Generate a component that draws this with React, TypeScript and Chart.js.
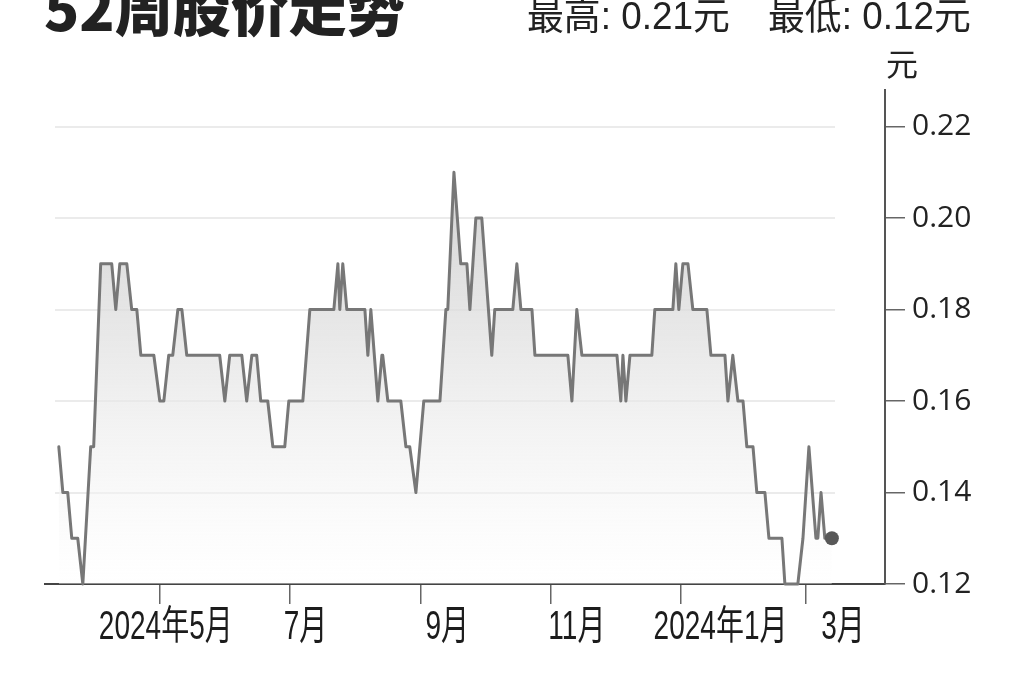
import React, { useEffect, useRef } from "react";
import { Chart, registerables } from "chart.js";

Chart.register(...registerables);

// ---- data (x = days since 2024-05-01, y = price in 元) ----
const DAYS = [
  -47.5, -45.6, -43.3, -41.4, -38.6, -36.2, -32.5, -31.1, -27.8, -22.6,
  -20.7, -18.8, -15.5, -13.2, -10.8, -8.9, -2.8, 0, 1.9, 4.2,
  6.1, 8.5, 10.4, 12.7, 28.2, 30.6, 32.9, 38.6, 40.9, 43.3,
  45.6, 47.5, 50.8, 53.2, 58.8, 60.7, 67.3, 70.6, 81.9, 83.8,
  84.7, 86.1, 88.0, 96.5, 97.9, 99.3, 102.6, 104.5, 104.9, 107.3,
  113.4, 115.8, 117.6, 120.5, 124.2, 131.8, 134.6, 135.5, 138.4, 141.6,
  144.5, 145.9, 148.7, 151.5, 156.2, 157.6, 166.1, 168.0, 169.9, 175.1,
  176.5, 192.0, 193.9, 196.2, 198.6, 215.1, 216.9, 217.9, 219.3, 221.2,
  231.5, 232.9, 241.4, 242.8, 244.2, 246.1, 248.5, 250.8, 257.4, 259.3,
  265.9, 267.3, 269.6, 272.0, 274.4, 276.2, 279.1, 280.9, 284.7, 286.6,
  292.7, 294.1, 300.2, 302.6, 305.4, 308.7, 309.6, 311.1, 312.9, 316.2,
];
const PRICES = [
  0.15, 0.14, 0.14, 0.13, 0.13, 0.12, 0.15, 0.15, 0.19, 0.19,
  0.18, 0.19, 0.19, 0.18, 0.18, 0.17, 0.17, 0.16, 0.16, 0.17,
  0.17, 0.18, 0.18, 0.17, 0.17, 0.16, 0.17, 0.17, 0.16, 0.17,
  0.17, 0.16, 0.16, 0.15, 0.15, 0.16, 0.16, 0.18, 0.18, 0.19,
  0.18, 0.19, 0.18, 0.18, 0.17, 0.18, 0.16, 0.17, 0.17, 0.16,
  0.16, 0.15, 0.15, 0.14, 0.16, 0.16, 0.18, 0.18, 0.21, 0.19,
  0.19, 0.18, 0.20, 0.20, 0.17, 0.18, 0.18, 0.19, 0.18, 0.18,
  0.17, 0.17, 0.16, 0.18, 0.17, 0.17, 0.16, 0.17, 0.16, 0.17,
  0.17, 0.18, 0.18, 0.19, 0.18, 0.19, 0.19, 0.18, 0.18, 0.17,
  0.17, 0.16, 0.17, 0.16, 0.16, 0.15, 0.15, 0.14, 0.14, 0.13,
  0.13, 0.12, 0.12, 0.13, 0.15, 0.13, 0.13, 0.14, 0.13, 0.13,
];
const MONTH_TICK_DAYS = [0, 61, 123, 184, 245, 304];
const MONTH_LABELS = ["2024年5月", "7月", "9月", "11月", "2024年1月", "3月"];
const PRICE_TICKS = [0.12, 0.14, 0.16, 0.18, 0.2, 0.22];
const TITLE = "52周股价走势";
const HIGH_TEXT = "最高: 0.21元";
const LOW_TEXT = "最低: 0.12元";
const UNIT = "元";

// ---- styling ----
const LABEL_SHIFT = [6, 16, 26, 26, 40, 37];
const X_FONT = '40px "Liberation Sans", "Noto Sans CJK SC", sans-serif';

const partialGrid = {
  id: "partialGrid",
  beforeDatasetsDraw(chart: any) {
    const { ctx, chartArea, scales } = chart;
    const y = scales.y;
    ctx.save();
    ctx.strokeStyle = "#ebebeb";
    ctx.lineWidth = 2;
    y.ticks.forEach((t: any) => {
      if (t.value <= y.min + 1e-9) return;
      const py = Math.round(y.getPixelForValue(t.value));
      ctx.beginPath();
      ctx.moveTo(chartArea.left + 10, py);
      ctx.lineTo(chartArea.right - 50, py);
      ctx.stroke();
    });
    ctx.restore();
  },
};

const xLabels = {
  id: "xLabels",
  afterDraw(chart: any) {
    const { ctx, scales } = chart;
    const x = scales.x;
    ctx.save();
    ctx.fillStyle = "#1c1c1c";
    ctx.font = X_FONT;
    ctx.textAlign = "center";
    ctx.textBaseline = "alphabetic";
    MONTH_TICK_DAYS.forEach((d, i) => {
      const px = x.getPixelForValue(d) + LABEL_SHIFT[i];
      ctx.save();
      ctx.translate(px, x.top + 55);
      ctx.scale(0.7, 1);
      ctx.fillText(MONTH_LABELS[i], 0, 0);
      ctx.restore();
    });
    ctx.restore();
  },
};

export default function App() {
  const ref = useRef<HTMLCanvasElement | null>(null);

  useEffect(() => {
    if (!ref.current) return;
    const points = DAYS.map((d, i) => ({ x: d, y: PRICES[i] }));
    const last = points.length - 1;
    const chart = new Chart(ref.current, {
      type: "line",
      data: {
        datasets: [
          {
            data: points,
            borderColor: "#777",
            borderWidth: 3,
            borderJoinStyle: "round",
            borderCapStyle: "round",
            tension: 0,
            fill: "start",
            backgroundColor: (c: any) => {
              const area = c.chart.chartArea;
              if (!area) return "rgba(0,0,0,0)";
              const g = c.chart.ctx.createLinearGradient(0, area.top + 60, 0, area.bottom);
              g.addColorStop(0, "rgba(200,200,200,0.85)");
              g.addColorStop(0.5, "rgba(228,228,228,0.7)");
              g.addColorStop(1, "rgba(255,255,255,0.4)");
              return g;
            },
            pointRadius: (c: any) => (c.dataIndex === last ? 7 : 0),
            pointBackgroundColor: "#585858",
            pointBorderWidth: 0,
            pointHoverRadius: 0,
            clip: 10,
          } as any,
        ],
      },
      options: {
        animation: false,
        responsive: false,
        maintainAspectRatio: false,
        events: [],
        layout: { padding: { left: 45, top: 90, right: 0, bottom: 0 } },
        plugins: { legend: { display: false }, tooltip: { enabled: false }, title: { display: false } },
        scales: {
          x: {
            type: "linear",
            min: -54,
            max: 341.2,
            afterBuildTicks: (s: any) => {
              s.ticks = MONTH_TICK_DAYS.map((v) => ({ value: v }));
            },
            afterFit: (s: any) => {
              s.height = 98;
            },
            grid: { drawOnChartArea: false, drawTicks: true, tickLength: 20, color: "#666", lineWidth: 1.5 },
            border: { display: true, color: "#444", width: 2 },
            ticks: { display: false },
          },
          y: {
            type: "linear",
            position: "right",
            min: 0.12,
            max: 0.228,
            afterBuildTicks: (s: any) => {
              s.ticks = PRICE_TICKS.map((v) => ({ value: v }));
            },
            afterFit: (s: any) => {
              s.width = 139;
            },
            grid: { drawOnChartArea: false, drawTicks: true, tickLength: 20, color: "#666", lineWidth: 1.5 },
            border: { display: true, color: "#555", width: 2 },
            ticks: {
              padding: 7,
              color: "#222",
              font: { family: '"Open Sans", "Noto Sans", sans-serif', size: 30 },
              callback: (v: any) => Number(v).toFixed(2),
            },
          },
        },
      } as any,
      plugins: [partialGrid, xLabels],
    });
    return () => chart.destroy();
  }, []);

  const topFont = '"Liberation Sans", "Noto Sans CJK SC", sans-serif';
  const topStyle: any = {
    position: "absolute",
    top: -3,
    fontSize: 38,
    lineHeight: "38px",
    fontFamily: topFont,
    color: "#222",
    whiteSpace: "nowrap",
    transform: "scaleX(0.97)",
    transformOrigin: "left top",
  };
  return (
    <div style={{ position: "fixed", left: 0, top: 0, width: 1024, height: 682, background: "#fff", overflow: "hidden" }}>
      <canvas ref={ref} width={1024} height={682} style={{ position: "absolute", left: 0, top: 0, width: 1024, height: 682 }} />
      <div
        style={{
          position: "absolute",
          left: 44,
          top: -23,
          fontSize: 58,
          lineHeight: "58px",
          fontWeight: 900,
          fontFamily: '"Noto Sans CJK SC", sans-serif',
          color: "#222",
          whiteSpace: "nowrap",
        }}
      >
        {TITLE}
      </div>
      <div style={{ ...topStyle, left: 527 }}>{HIGH_TEXT}</div>
      <div style={{ ...topStyle, left: 768 }}>{LOW_TEXT}</div>
      <div style={{ position: "absolute", left: 886, top: 46, fontSize: 32, lineHeight: "32px", fontFamily: '"Noto Sans CJK SC", sans-serif', color: "#222" }}>
        {UNIT}
      </div>
    </div>
  );
}
